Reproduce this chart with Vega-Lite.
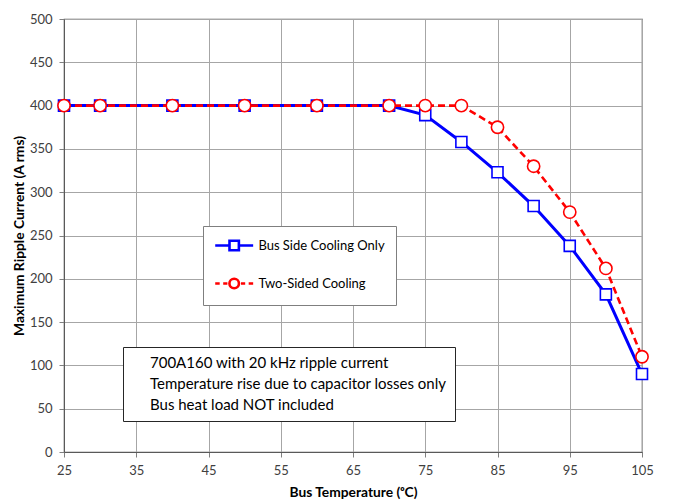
{
  "$schema": "https://vega.github.io/schema/vega-lite/v6.json",
  "width": 578,
  "height": 433,
  "autosize": {"type": "none"},
  "padding": {"left": 64, "top": 19, "right": 44, "bottom": 50},
  "background": "white",
  "config": {
    "font": "Lato",
    "view": {"stroke": "#595959", "strokeWidth": 1.2},
    "axis": {
      "grid": true,
      "gridColor": "#a6a6a6",
      "gridWidth": 1,
      "domainColor": "#595959",
      "tickColor": "#808080",
      "tickSize": 5,
      "labelFont": "Lato",
      "labelFontSize": 13,
      "labelColor": "#404040",
      "labelPadding": 7,
      "labelOverlap": false,
      "labelFlush": false,
      "titleFont": "Lato",
      "titleFontSize": 13.8,
      "titleFontWeight": "bold",
      "titleColor": "#000000"
    }
  },
  "datasets": {
    "curves": [
      {"temp": 25, "current": 400, "series": "Bus Side Cooling Only"},
      {"temp": 30, "current": 400, "series": "Bus Side Cooling Only"},
      {"temp": 40, "current": 400, "series": "Bus Side Cooling Only"},
      {"temp": 50, "current": 400, "series": "Bus Side Cooling Only"},
      {"temp": 60, "current": 400, "series": "Bus Side Cooling Only"},
      {"temp": 70, "current": 400, "series": "Bus Side Cooling Only"},
      {"temp": 75, "current": 389, "series": "Bus Side Cooling Only"},
      {"temp": 80, "current": 358, "series": "Bus Side Cooling Only"},
      {"temp": 85, "current": 323, "series": "Bus Side Cooling Only"},
      {"temp": 90, "current": 284, "series": "Bus Side Cooling Only"},
      {"temp": 95, "current": 238, "series": "Bus Side Cooling Only"},
      {"temp": 100, "current": 182, "series": "Bus Side Cooling Only"},
      {"temp": 105, "current": 90, "series": "Bus Side Cooling Only"},
      {"temp": 25, "current": 400, "series": "Two-Sided Cooling"},
      {"temp": 30, "current": 400, "series": "Two-Sided Cooling"},
      {"temp": 40, "current": 400, "series": "Two-Sided Cooling"},
      {"temp": 50, "current": 400, "series": "Two-Sided Cooling"},
      {"temp": 60, "current": 400, "series": "Two-Sided Cooling"},
      {"temp": 70, "current": 400, "series": "Two-Sided Cooling"},
      {"temp": 75, "current": 400, "series": "Two-Sided Cooling"},
      {"temp": 80, "current": 400, "series": "Two-Sided Cooling"},
      {"temp": 85, "current": 375, "series": "Two-Sided Cooling"},
      {"temp": 90, "current": 330, "series": "Two-Sided Cooling"},
      {"temp": 95, "current": 277, "series": "Two-Sided Cooling"},
      {"temp": 100, "current": 212, "series": "Two-Sided Cooling"},
      {"temp": 105, "current": 110, "series": "Two-Sided Cooling"}
    ],
    "notes": [
      {"line": "700A160 with 20 kHz ripple current"},
      {"line": "Temperature rise due to capacitor losses only"},
      {"line": "Bus heat load NOT included"}
    ]
  },
  "layer": [
    {
      "data": {"name": "curves"},
      "transform": [{"filter": "datum.series === 'Bus Side Cooling Only'"}],
      "mark": {"type": "line", "color": "#0000ff", "strokeWidth": 3},
      "encoding": {
        "x": {"field": "temp", "type": "quantitative", "title": "Bus Temperature (ᵒC)", "scale": {"domain": [25, 105], "nice": false, "zero": false}, "axis": {"values": [25,30,35,40,45,50,55,60,65,70,75,80,85,90,95,100,105], "titlePadding": 8, "grid": true, "labelOverlap": false, "labelFlush": false}},
        "y": {"field": "current", "type": "quantitative", "title": "Maximum Ripple Current (A rms)", "scale": {"domain": [0, 500], "nice": false}, "axis": {"values": [0,50,100,150,200,250,300,350,400,450,500], "titlePadding": 3, "grid": true, "labelOverlap": false, "labelFlush": false}}
      }
    },
    {
      "data": {"name": "curves"},
      "transform": [{"filter": "datum.series === 'Bus Side Cooling Only'"}],
      "mark": {"type": "point", "shape": "square", "size": 121, "filled": true, "fill": "white", "stroke": "#0000ff", "strokeWidth": 1.6, "opacity": 1},
      "encoding": {
        "x": {"field": "temp", "type": "quantitative", "title": "Bus Temperature (ᵒC)"},
        "y": {"field": "current", "type": "quantitative", "title": "Maximum Ripple Current (A rms)"}
      }
    },
    {
      "data": {"name": "curves"},
      "transform": [{"filter": "datum.series === 'Two-Sided Cooling'"}],
      "mark": {"type": "line", "color": "#ff0000", "strokeWidth": 2.6, "strokeDash": [7, 4]},
      "encoding": {
        "x": {"field": "temp", "type": "quantitative", "title": "Bus Temperature (ᵒC)"},
        "y": {"field": "current", "type": "quantitative", "title": "Maximum Ripple Current (A rms)"}
      }
    },
    {
      "data": {"name": "curves"},
      "transform": [{"filter": "datum.series === 'Two-Sided Cooling'"}],
      "mark": {"type": "point", "shape": "circle", "size": 150, "filled": true, "fill": "white", "stroke": "#ff0000", "strokeWidth": 1.6, "opacity": 1},
      "encoding": {
        "x": {"field": "temp", "type": "quantitative", "title": "Bus Temperature (ᵒC)"},
        "y": {"field": "current", "type": "quantitative", "title": "Maximum Ripple Current (A rms)"}
      }
    },
    {
      "data": {"name": "notes"},
      "transform": [{"filter": "datum.line == null"}],
      "mark": {"type": "point", "filled": true, "opacity": 1},
      "encoding": {
        "fill": {
          "field": "line",
          "type": "nominal",
          "scale": {
            "domain": ["700A160 with 20 kHz ripple current", "Temperature rise due to capacitor losses only", "Bus heat load NOT included"],
            "range": ["#ffffff", "#ffffff", "#ffffff"]
          },
          "legend": {
            "title": null,
            "orient": "none",
            "legendX": 59,
            "legendY": 328,
            "direction": "vertical",
            "symbolSize": 0,
            "symbolStrokeWidth": 0,
            "symbolOpacity": 0,
            "rowPadding": 5,
            "labelOffset": 4,
            "labelFont": "Lato",
            "labelFontSize": 15,
            "labelColor": "#000000",
            "labelLimit": 500,
            "padding": 8,
            "strokeColor": "#262626",
            "fillColor": "white"
          }
        }
      }
    },
    {
      "data": {"name": "curves"},
      "transform": [{"filter": "datum.current < 0"}],
      "mark": {"type": "point", "filled": false, "fill": "white", "strokeWidth": 2.6, "opacity": 1},
      "encoding": {
        "color": {
          "field": "series",
          "type": "nominal",
          "scale": {"domain": ["Bus Side Cooling Only", "Two-Sided Cooling"], "range": ["#0000ff", "#ff0000"]}
        },
        "shape": {
          "field": "series",
          "type": "nominal",
          "scale": {
            "domain": ["Bus Side Cooling Only", "Two-Sided Cooling"],
            "range": [
              "M-1.04,0L1,0M2.34,0L4.38,0M1,-0.67L2.34,-0.67L2.34,0.67L1,0.67Z",
              "M-1.04,0L-0.4,0M0.1,0L0.7,0M2.64,0L3.24,0M3.74,0L4.38,0M2.35,0A0.68,0.68,0,1,1,0.99,0A0.68,0.68,0,1,1,2.35,0Z"
            ]
          },
          "legend": {
            "title": null,
            "orient": "none",
            "legendX": 139,
            "legendY": 207,
            "direction": "vertical",
            "symbolSize": 196,
            "symbolStrokeWidth": 2.6,
            "symbolFillColor": "white",
            "rowPadding": 17,
            "labelOffset": 27.4,
            "labelFont": "Lato",
            "labelFontSize": 13,
            "labelColor": "#000000",
            "labelLimit": 300,
            "padding": 11,
            "strokeColor": "#7f7f7f",
            "fillColor": "white"
          }
        }
      }
    }
  ]
}
